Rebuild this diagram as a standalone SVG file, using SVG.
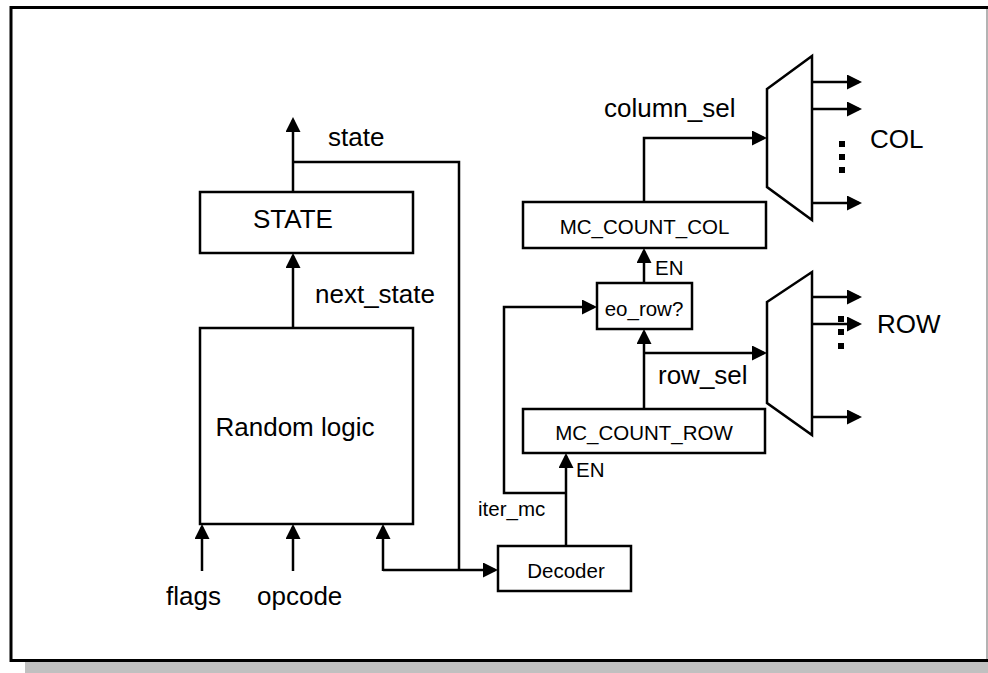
<svg xmlns="http://www.w3.org/2000/svg" width="988" height="673" viewBox="0 0 988 673">
  <style>
    .box { fill: #ffffff; stroke: #000000; stroke-width: 2.5; }
    .wire { fill: none; stroke: #000000; stroke-width: 2.5; }
    .arw { marker-end: url(#ah); }
    .big { font-family: "Liberation Sans", Arial, sans-serif; font-size: 26px; fill: #000000; }
    .small { font-family: "Liberation Sans", Arial, sans-serif; font-size: 20.5px; fill: #000000; }
    .mid { text-anchor: middle; }
    .dot { fill: #000000; }
  </style>
  <defs>
    <marker id="ah" viewBox="0 0 15 15" refX="12" refY="7.5" markerWidth="15" markerHeight="15" markerUnits="userSpaceOnUse" orient="auto">
      <path d="M0,0 L15,7.5 L0,15 Z" fill="#000000"/>
    </marker>
  </defs>

  <!-- page frame with drop shadow -->
  <g id="frame">
    <rect x="25" y="662" width="963" height="11" fill="#c0c0c0"/>
    <rect x="0" y="0" width="988" height="660" fill="#ffffff"/>
    <line x1="987" y1="7" x2="987" y2="661" stroke="#9a9a9a" stroke-width="1.5"/>
    <path d="M988,7.5 H11 V660.5 H988" fill="none" stroke="#000000" stroke-width="3"/>
  </g>

  <!-- wiring -->
  <g id="connectors">
    <path class="wire arw" d="M293,192 V120"/>
    <path class="wire" d="M293,162 H459 V570"/>
    <path class="wire arw" d="M383,570 H495"/>
    <path class="wire arw" d="M383,571 V527"/>
    <path class="wire arw" d="M293,328 V256"/>
    <path class="wire arw" d="M202,571 V527"/>
    <path class="wire arw" d="M293,571 V527"/>
    <path class="wire arw" d="M566,546 V456"/>
    <path class="wire arw" d="M566,493 H504 V307 H594"/>
    <path class="wire arw" d="M644,409 V332"/>
    <path class="wire arw" d="M644,353 H764"/>
    <path class="wire arw" d="M644,283 V251"/>
    <path class="wire arw" d="M644,202 V138 H764"/>
    <path class="wire arw" d="M812,82 H859"/>
    <path class="wire arw" d="M812,109 H859"/>
    <path class="wire arw" d="M812,203 H859"/>
    <path class="wire arw" d="M812,297 H859"/>
    <path class="wire arw" d="M812,324 H859"/>
    <path class="wire arw" d="M812,417 H859"/>
  </g>

  <g id="state">
    <rect class="box" x="200" y="192" width="213" height="61"/>
    <text class="big mid" x="293" y="228">STATE</text>
  </g>

  <g id="random-logic">
    <rect class="box" x="200" y="328" width="213" height="196"/>
    <text class="big mid" x="295" y="436">Random logic</text>
  </g>

  <g id="decoder">
    <rect class="box" x="498" y="546" width="133" height="45"/>
    <text class="small mid" x="566" y="578">Decoder</text>
  </g>

  <g id="mc-count-row">
    <rect class="box" x="523" y="409" width="242" height="44"/>
    <text class="small mid" x="644" y="440">MC_COUNT_ROW</text>
  </g>

  <g id="eo-row">
    <rect class="box" x="597" y="283" width="95" height="46"/>
    <text class="small mid" x="644" y="316">eo_row?</text>
  </g>

  <g id="mc-count-col">
    <rect class="box" x="523" y="202" width="243" height="46"/>
    <text class="small mid" x="644.5" y="234">MC_COUNT_COL</text>
  </g>

  <g id="col-mux">
    <polygon class="box" points="767,89 812,56 812,220 767,187"/>
    <rect class="dot" x="839" y="141" width="6" height="6"/>
    <rect class="dot" x="839" y="154" width="6" height="6"/>
    <rect class="dot" x="839" y="167" width="6" height="6"/>
    <text class="big" x="870" y="148">COL</text>
  </g>

  <g id="row-mux">
    <polygon class="box" points="767,302 812,272 812,435 767,403"/>
    <rect class="dot" x="838" y="316" width="6" height="6"/>
    <rect class="dot" x="838" y="329" width="6" height="6"/>
    <rect class="dot" x="838" y="343" width="6" height="6"/>
    <text class="big" x="877" y="333">ROW</text>
  </g>

  <!-- signal labels -->
  <g id="labels">
    <text class="big" x="328" y="146">state</text>
    <text class="big" x="315" y="303">next_state</text>
    <text class="big" x="604" y="117">column_sel</text>
    <text class="big" x="658" y="384">row_sel</text>
    <text class="small" x="655" y="275">EN</text>
    <text class="small" x="576" y="477">EN</text>
    <text class="small" x="478" y="516">iter_mc</text>
    <text class="big" x="166" y="605">flags</text>
    <text class="big" x="257" y="605">opcode</text>
  </g>
</svg>
